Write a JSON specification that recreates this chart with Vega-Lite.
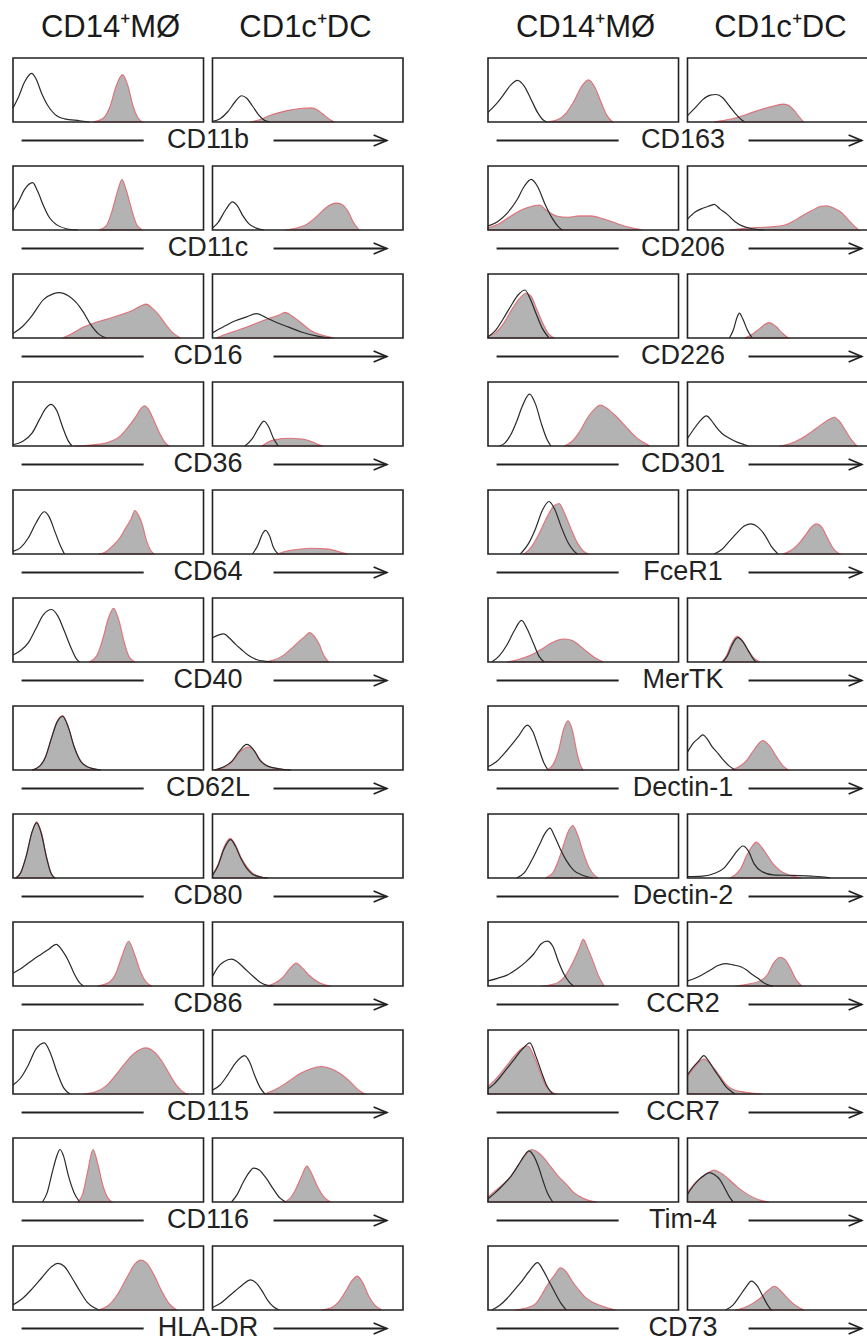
{
"$schema": "https://vega.github.io/schema/vega-lite/v6.json",
"background": "white",
"padding": {"left": 10, "top": 8, "right": 0, "bottom": 0},
"config": {"view": {"stroke": null}, "font": "Liberation Sans", "facet": {"spacing": 11}},
"spacing": 81,
"datasets": {
"H": [{"c":"M","t":"CD14⁺MØ"},{"c":"D","t":"CD1c⁺DC"}],
"L": [
{"m":"CD11b","c":"M","x":0,"i":0.22},{"m":"CD11b","c":"M","x":3,"i":0.4},{"m":"CD11b","c":"M","x":6,"i":0.62},{"m":"CD11b","c":"M","x":9.8,"i":0.76},{"m":"CD11b","c":"M","x":12,"i":0.68},{"m":"CD11b","c":"M","x":15,"i":0.45},{"m":"CD11b","c":"M","x":18,"i":0.27},{"m":"CD11b","c":"M","x":22,"i":0.12},{"m":"CD11b","c":"M","x":27,"i":0.05},{"m":"CD11b","c":"M","x":35,"i":0.02},{"m":"CD11b","c":"M","x":40,"i":0},
{"m":"CD11b","c":"M","x":42,"s":0},{"m":"CD11b","c":"M","x":47,"s":0.05},{"m":"CD11b","c":"M","x":51,"s":0.25},{"m":"CD11b","c":"M","x":54,"s":0.55},{"m":"CD11b","c":"M","x":57.5,"s":0.74},{"m":"CD11b","c":"M","x":60.5,"s":0.55},{"m":"CD11b","c":"M","x":63,"s":0.25},{"m":"CD11b","c":"M","x":65.5,"s":0.07},{"m":"CD11b","c":"M","x":68,"s":0},
{"m":"CD11b","c":"D","x":0,"i":0.01},{"m":"CD11b","c":"D","x":4,"i":0.05},{"m":"CD11b","c":"D","x":8,"i":0.16},{"m":"CD11b","c":"D","x":12,"i":0.32},{"m":"CD11b","c":"D","x":15.3,"i":0.41},{"m":"CD11b","c":"D","x":18,"i":0.37},{"m":"CD11b","c":"D","x":21,"i":0.25},{"m":"CD11b","c":"D","x":24,"i":0.12},{"m":"CD11b","c":"D","x":27,"i":0.03},{"m":"CD11b","c":"D","x":30,"i":0},
{"m":"CD11b","c":"D","x":20,"s":0},{"m":"CD11b","c":"D","x":25,"s":0.04},{"m":"CD11b","c":"D","x":30,"s":0.1},{"m":"CD11b","c":"D","x":38,"s":0.17},{"m":"CD11b","c":"D","x":46,"s":0.21},{"m":"CD11b","c":"D","x":52,"s":0.22},{"m":"CD11b","c":"D","x":56,"s":0.17},{"m":"CD11b","c":"D","x":59,"s":0.1},{"m":"CD11b","c":"D","x":62,"s":0.03},{"m":"CD11b","c":"D","x":64,"s":0},
{"m":"CD11c","c":"M","x":0,"i":0.3},{"m":"CD11c","c":"M","x":3,"i":0.45},{"m":"CD11c","c":"M","x":6,"i":0.63},{"m":"CD11c","c":"M","x":10.3,"i":0.74},{"m":"CD11c","c":"M","x":13,"i":0.6},{"m":"CD11c","c":"M","x":16,"i":0.38},{"m":"CD11c","c":"M","x":19,"i":0.2},{"m":"CD11c","c":"M","x":23,"i":0.08},{"m":"CD11c","c":"M","x":28,"i":0.02},{"m":"CD11c","c":"M","x":34,"i":0},
{"m":"CD11c","c":"M","x":45,"s":0},{"m":"CD11c","c":"M","x":49,"s":0.07},{"m":"CD11c","c":"M","x":52,"s":0.3},{"m":"CD11c","c":"M","x":55,"s":0.62},{"m":"CD11c","c":"M","x":57.2,"s":0.79},{"m":"CD11c","c":"M","x":59.5,"s":0.62},{"m":"CD11c","c":"M","x":62.5,"s":0.3},{"m":"CD11c","c":"M","x":65,"s":0.08},{"m":"CD11c","c":"M","x":68,"s":0},
{"m":"CD11c","c":"D","x":0,"i":0.03},{"m":"CD11c","c":"D","x":3,"i":0.12},{"m":"CD11c","c":"D","x":7,"i":0.32},{"m":"CD11c","c":"D","x":10.5,"i":0.44},{"m":"CD11c","c":"D","x":13,"i":0.38},{"m":"CD11c","c":"D","x":16,"i":0.22},{"m":"CD11c","c":"D","x":19,"i":0.1},{"m":"CD11c","c":"D","x":23,"i":0.03},{"m":"CD11c","c":"D","x":27,"i":0},
{"m":"CD11c","c":"D","x":38,"s":0},{"m":"CD11c","c":"D","x":44,"s":0.03},{"m":"CD11c","c":"D","x":50,"s":0.1},{"m":"CD11c","c":"D","x":55,"s":0.22},{"m":"CD11c","c":"D","x":60,"s":0.36},{"m":"CD11c","c":"D","x":65,"s":0.42},{"m":"CD11c","c":"D","x":68,"s":0.4},{"m":"CD11c","c":"D","x":71,"s":0.3},{"m":"CD11c","c":"D","x":74,"s":0.12},{"m":"CD11c","c":"D","x":77,"s":0},
{"m":"CD16","c":"M","x":0,"i":0.07},{"m":"CD16","c":"M","x":5,"i":0.18},{"m":"CD16","c":"M","x":10,"i":0.35},{"m":"CD16","c":"M","x":16,"i":0.6},{"m":"CD16","c":"M","x":21,"i":0.69},{"m":"CD16","c":"M","x":24.3,"i":0.71},{"m":"CD16","c":"M","x":29,"i":0.66},{"m":"CD16","c":"M","x":33,"i":0.56},{"m":"CD16","c":"M","x":37,"i":0.4},{"m":"CD16","c":"M","x":41,"i":0.2},{"m":"CD16","c":"M","x":45,"i":0.06},{"m":"CD16","c":"M","x":49,"i":0},
{"m":"CD16","c":"M","x":26,"s":0},{"m":"CD16","c":"M","x":31,"s":0.07},{"m":"CD16","c":"M","x":37,"s":0.17},{"m":"CD16","c":"M","x":44,"s":0.25},{"m":"CD16","c":"M","x":50,"s":0.3},{"m":"CD16","c":"M","x":56,"s":0.36},{"m":"CD16","c":"M","x":62,"s":0.42},{"m":"CD16","c":"M","x":67,"s":0.5},{"m":"CD16","c":"M","x":70,"s":0.53},{"m":"CD16","c":"M","x":73,"s":0.47},{"m":"CD16","c":"M","x":76,"s":0.38},{"m":"CD16","c":"M","x":80,"s":0.22},{"m":"CD16","c":"M","x":84,"s":0.08},{"m":"CD16","c":"M","x":88,"s":0},
{"m":"CD16","c":"D","x":0,"i":0.08},{"m":"CD16","c":"D","x":6,"i":0.18},{"m":"CD16","c":"D","x":12,"i":0.27},{"m":"CD16","c":"D","x":18,"i":0.33},{"m":"CD16","c":"D","x":23,"i":0.38},{"m":"CD16","c":"D","x":28,"i":0.32},{"m":"CD16","c":"D","x":33,"i":0.25},{"m":"CD16","c":"D","x":40,"i":0.17},{"m":"CD16","c":"D","x":47,"i":0.09},{"m":"CD16","c":"D","x":55,"i":0.03},{"m":"CD16","c":"D","x":62,"i":0},
{"m":"CD16","c":"D","x":2,"s":0},{"m":"CD16","c":"D","x":8,"s":0.07},{"m":"CD16","c":"D","x":15,"s":0.14},{"m":"CD16","c":"D","x":22,"s":0.22},{"m":"CD16","c":"D","x":29,"s":0.3},{"m":"CD16","c":"D","x":35,"s":0.36},{"m":"CD16","c":"D","x":38,"s":0.4},{"m":"CD16","c":"D","x":42,"s":0.34},{"m":"CD16","c":"D","x":46,"s":0.25},{"m":"CD16","c":"D","x":51,"s":0.13},{"m":"CD16","c":"D","x":57,"s":0.05},{"m":"CD16","c":"D","x":64,"s":0},
{"m":"CD36","c":"M","x":0,"i":0.02},{"m":"CD36","c":"M","x":5,"i":0.07},{"m":"CD36","c":"M","x":10,"i":0.2},{"m":"CD36","c":"M","x":14,"i":0.42},{"m":"CD36","c":"M","x":17,"i":0.58},{"m":"CD36","c":"M","x":20,"i":0.65},{"m":"CD36","c":"M","x":23,"i":0.55},{"m":"CD36","c":"M","x":26,"i":0.3},{"m":"CD36","c":"M","x":29,"i":0.08},{"m":"CD36","c":"M","x":31,"i":0},
{"m":"CD36","c":"M","x":32,"s":0},{"m":"CD36","c":"M","x":42,"s":0.02},{"m":"CD36","c":"M","x":50,"s":0.06},{"m":"CD36","c":"M","x":56,"s":0.15},{"m":"CD36","c":"M","x":60,"s":0.28},{"m":"CD36","c":"M","x":64,"s":0.44},{"m":"CD36","c":"M","x":67,"s":0.58},{"m":"CD36","c":"M","x":69,"s":0.63},{"m":"CD36","c":"M","x":71,"s":0.58},{"m":"CD36","c":"M","x":74,"s":0.4},{"m":"CD36","c":"M","x":77,"s":0.2},{"m":"CD36","c":"M","x":80,"s":0.05},{"m":"CD36","c":"M","x":82,"s":0},
{"m":"CD36","c":"D","x":17,"i":0},{"m":"CD36","c":"D","x":21,"i":0.12},{"m":"CD36","c":"D","x":24.5,"i":0.3},{"m":"CD36","c":"D","x":27,"i":0.39},{"m":"CD36","c":"D","x":29.5,"i":0.3},{"m":"CD36","c":"D","x":32,"i":0.12},{"m":"CD36","c":"D","x":34.5,"i":0},
{"m":"CD36","c":"D","x":26,"s":0},{"m":"CD36","c":"D","x":29,"s":0.06},{"m":"CD36","c":"D","x":33,"s":0.1},{"m":"CD36","c":"D","x":40,"s":0.12},{"m":"CD36","c":"D","x":47,"s":0.11},{"m":"CD36","c":"D","x":52,"s":0.07},{"m":"CD36","c":"D","x":56,"s":0.02},{"m":"CD36","c":"D","x":58,"s":0},
{"m":"CD64","c":"M","x":0,"i":0.04},{"m":"CD64","c":"M","x":4,"i":0.1},{"m":"CD64","c":"M","x":8,"i":0.25},{"m":"CD64","c":"M","x":12,"i":0.48},{"m":"CD64","c":"M","x":16.4,"i":0.66},{"m":"CD64","c":"M","x":19,"i":0.58},{"m":"CD64","c":"M","x":22,"i":0.35},{"m":"CD64","c":"M","x":25,"i":0.12},{"m":"CD64","c":"M","x":27,"i":0},
{"m":"CD64","c":"M","x":45,"s":0},{"m":"CD64","c":"M","x":49,"s":0.04},{"m":"CD64","c":"M","x":52,"s":0.12},{"m":"CD64","c":"M","x":56,"s":0.25},{"m":"CD64","c":"M","x":59,"s":0.4},{"m":"CD64","c":"M","x":62,"s":0.55},{"m":"CD64","c":"M","x":64,"s":0.68},{"m":"CD64","c":"M","x":66,"s":0.6},{"m":"CD64","c":"M","x":68,"s":0.45},{"m":"CD64","c":"M","x":70,"s":0.22},{"m":"CD64","c":"M","x":72,"s":0.07},{"m":"CD64","c":"M","x":74,"s":0},
{"m":"CD64","c":"D","x":21,"i":0},{"m":"CD64","c":"D","x":24,"i":0.15},{"m":"CD64","c":"D","x":26,"i":0.3},{"m":"CD64","c":"D","x":27.8,"i":0.37},{"m":"CD64","c":"D","x":30,"i":0.28},{"m":"CD64","c":"D","x":32,"i":0.1},{"m":"CD64","c":"D","x":34.5,"i":0},
{"m":"CD64","c":"D","x":34,"s":0},{"m":"CD64","c":"D","x":38,"s":0.04},{"m":"CD64","c":"D","x":44,"s":0.07},{"m":"CD64","c":"D","x":52,"s":0.09},{"m":"CD64","c":"D","x":60,"s":0.08},{"m":"CD64","c":"D","x":66,"s":0.04},{"m":"CD64","c":"D","x":71,"s":0},
{"m":"CD40","c":"M","x":0,"i":0.11},{"m":"CD40","c":"M","x":4,"i":0.18},{"m":"CD40","c":"M","x":8,"i":0.3},{"m":"CD40","c":"M","x":12,"i":0.52},{"m":"CD40","c":"M","x":16,"i":0.74},{"m":"CD40","c":"M","x":20.3,"i":0.82},{"m":"CD40","c":"M","x":23.5,"i":0.72},{"m":"CD40","c":"M","x":27,"i":0.48},{"m":"CD40","c":"M","x":30.5,"i":0.22},{"m":"CD40","c":"M","x":33.5,"i":0.04},{"m":"CD40","c":"M","x":35,"i":0},
{"m":"CD40","c":"M","x":40,"s":0},{"m":"CD40","c":"M","x":44,"s":0.1},{"m":"CD40","c":"M","x":47,"s":0.35},{"m":"CD40","c":"M","x":50,"s":0.68},{"m":"CD40","c":"M","x":52.8,"s":0.84},{"m":"CD40","c":"M","x":55.5,"s":0.66},{"m":"CD40","c":"M","x":58.5,"s":0.3},{"m":"CD40","c":"M","x":61,"s":0.08},{"m":"CD40","c":"M","x":64,"s":0},
{"m":"CD40","c":"D","x":0,"i":0.38},{"m":"CD40","c":"D","x":3,"i":0.42},{"m":"CD40","c":"D","x":6,"i":0.44},{"m":"CD40","c":"D","x":9,"i":0.37},{"m":"CD40","c":"D","x":12,"i":0.28},{"m":"CD40","c":"D","x":15,"i":0.2},{"m":"CD40","c":"D","x":19,"i":0.1},{"m":"CD40","c":"D","x":23,"i":0.04},{"m":"CD40","c":"D","x":28,"i":0.01},{"m":"CD40","c":"D","x":31,"i":0},
{"m":"CD40","c":"D","x":27,"s":0},{"m":"CD40","c":"D","x":32,"s":0.03},{"m":"CD40","c":"D","x":37,"s":0.1},{"m":"CD40","c":"D","x":41,"s":0.2},{"m":"CD40","c":"D","x":45,"s":0.31},{"m":"CD40","c":"D","x":48.5,"s":0.4},{"m":"CD40","c":"D","x":51,"s":0.46},{"m":"CD40","c":"D","x":53.5,"s":0.4},{"m":"CD40","c":"D","x":56,"s":0.28},{"m":"CD40","c":"D","x":58.5,"s":0.1},{"m":"CD40","c":"D","x":61,"s":0},
{"m":"CD62L","c":"M","x":10,"i":0},{"m":"CD62L","c":"M","x":14,"i":0.06},{"m":"CD62L","c":"M","x":17,"i":0.2},{"m":"CD62L","c":"M","x":20,"i":0.48},{"m":"CD62L","c":"M","x":23,"i":0.74},{"m":"CD62L","c":"M","x":26,"i":0.84},{"m":"CD62L","c":"M","x":29,"i":0.67},{"m":"CD62L","c":"M","x":32,"i":0.37},{"m":"CD62L","c":"M","x":35,"i":0.16},{"m":"CD62L","c":"M","x":39,"i":0.05},{"m":"CD62L","c":"M","x":46,"i":0},
{"m":"CD62L","c":"M","x":10,"s":0},{"m":"CD62L","c":"M","x":14,"s":0.06},{"m":"CD62L","c":"M","x":17,"s":0.2},{"m":"CD62L","c":"M","x":20,"s":0.48},{"m":"CD62L","c":"M","x":23,"s":0.75},{"m":"CD62L","c":"M","x":26,"s":0.85},{"m":"CD62L","c":"M","x":29,"s":0.68},{"m":"CD62L","c":"M","x":32,"s":0.38},{"m":"CD62L","c":"M","x":35,"s":0.17},{"m":"CD62L","c":"M","x":39,"s":0.05},{"m":"CD62L","c":"M","x":46,"s":0},
{"m":"CD62L","c":"D","x":1,"i":0},{"m":"CD62L","c":"D","x":6,"i":0.05},{"m":"CD62L","c":"D","x":10,"i":0.13},{"m":"CD62L","c":"D","x":14,"i":0.29},{"m":"CD62L","c":"D","x":18,"i":0.4},{"m":"CD62L","c":"D","x":21.5,"i":0.32},{"m":"CD62L","c":"D","x":25,"i":0.15},{"m":"CD62L","c":"D","x":29,"i":0.06},{"m":"CD62L","c":"D","x":35,"i":0.02},{"m":"CD62L","c":"D","x":41,"i":0},
{"m":"CD62L","c":"D","x":1,"s":0},{"m":"CD62L","c":"D","x":6,"s":0.04},{"m":"CD62L","c":"D","x":10,"s":0.12},{"m":"CD62L","c":"D","x":14,"s":0.27},{"m":"CD62L","c":"D","x":18.5,"s":0.36},{"m":"CD62L","c":"D","x":22,"s":0.3},{"m":"CD62L","c":"D","x":25,"s":0.16},{"m":"CD62L","c":"D","x":29,"s":0.06},{"m":"CD62L","c":"D","x":35,"s":0.02},{"m":"CD62L","c":"D","x":41,"s":0},
{"m":"CD80","c":"M","x":1.5,"i":0},{"m":"CD80","c":"M","x":4,"i":0.08},{"m":"CD80","c":"M","x":7,"i":0.35},{"m":"CD80","c":"M","x":10,"i":0.72},{"m":"CD80","c":"M","x":12.4,"i":0.86},{"m":"CD80","c":"M","x":15,"i":0.68},{"m":"CD80","c":"M","x":17.5,"i":0.33},{"m":"CD80","c":"M","x":20,"i":0.07},{"m":"CD80","c":"M","x":22,"i":0},
{"m":"CD80","c":"M","x":1.5,"s":0},{"m":"CD80","c":"M","x":4,"s":0.08},{"m":"CD80","c":"M","x":7,"s":0.35},{"m":"CD80","c":"M","x":10,"s":0.72},{"m":"CD80","c":"M","x":12.4,"s":0.88},{"m":"CD80","c":"M","x":15,"s":0.7},{"m":"CD80","c":"M","x":17.5,"s":0.35},{"m":"CD80","c":"M","x":20,"s":0.08},{"m":"CD80","c":"M","x":22,"s":0},
{"m":"CD80","c":"D","x":0,"i":0.04},{"m":"CD80","c":"D","x":3,"i":0.2},{"m":"CD80","c":"D","x":6,"i":0.45},{"m":"CD80","c":"D","x":9.5,"i":0.6},{"m":"CD80","c":"D","x":12,"i":0.5},{"m":"CD80","c":"D","x":15,"i":0.3},{"m":"CD80","c":"D","x":18,"i":0.15},{"m":"CD80","c":"D","x":21,"i":0.06},{"m":"CD80","c":"D","x":25,"i":0.02},{"m":"CD80","c":"D","x":29,"i":0},
{"m":"CD80","c":"D","x":0,"s":0.05},{"m":"CD80","c":"D","x":3,"s":0.22},{"m":"CD80","c":"D","x":6,"s":0.48},{"m":"CD80","c":"D","x":9.3,"s":0.62},{"m":"CD80","c":"D","x":12,"s":0.52},{"m":"CD80","c":"D","x":15,"s":0.32},{"m":"CD80","c":"D","x":18,"s":0.18},{"m":"CD80","c":"D","x":21,"s":0.08},{"m":"CD80","c":"D","x":25,"s":0.02},{"m":"CD80","c":"D","x":29,"s":0},
{"m":"CD86","c":"M","x":0,"i":0.2},{"m":"CD86","c":"M","x":5,"i":0.29},{"m":"CD86","c":"M","x":10,"i":0.4},{"m":"CD86","c":"M","x":15,"i":0.5},{"m":"CD86","c":"M","x":19,"i":0.58},{"m":"CD86","c":"M","x":22.6,"i":0.65},{"m":"CD86","c":"M","x":26,"i":0.55},{"m":"CD86","c":"M","x":29,"i":0.4},{"m":"CD86","c":"M","x":32,"i":0.2},{"m":"CD86","c":"M","x":35,"i":0.05},{"m":"CD86","c":"M","x":37,"i":0},
{"m":"CD86","c":"M","x":44,"s":0},{"m":"CD86","c":"M","x":50,"s":0.05},{"m":"CD86","c":"M","x":54,"s":0.2},{"m":"CD86","c":"M","x":57,"s":0.45},{"m":"CD86","c":"M","x":60.7,"s":0.7},{"m":"CD86","c":"M","x":64,"s":0.48},{"m":"CD86","c":"M","x":67,"s":0.22},{"m":"CD86","c":"M","x":70,"s":0.06},{"m":"CD86","c":"M","x":73,"s":0},
{"m":"CD86","c":"D","x":0,"i":0.15},{"m":"CD86","c":"D","x":3,"i":0.3},{"m":"CD86","c":"D","x":6,"i":0.38},{"m":"CD86","c":"D","x":10,"i":0.42},{"m":"CD86","c":"D","x":13,"i":0.38},{"m":"CD86","c":"D","x":17,"i":0.27},{"m":"CD86","c":"D","x":21,"i":0.16},{"m":"CD86","c":"D","x":25,"i":0.06},{"m":"CD86","c":"D","x":29,"i":0.01},{"m":"CD86","c":"D","x":32,"i":0},
{"m":"CD86","c":"D","x":29,"s":0},{"m":"CD86","c":"D","x":33,"s":0.05},{"m":"CD86","c":"D","x":37,"s":0.14},{"m":"CD86","c":"D","x":40.5,"s":0.27},{"m":"CD86","c":"D","x":44,"s":0.36},{"m":"CD86","c":"D","x":47.5,"s":0.27},{"m":"CD86","c":"D","x":51,"s":0.16},{"m":"CD86","c":"D","x":55,"s":0.07},{"m":"CD86","c":"D","x":59,"s":0.02},{"m":"CD86","c":"D","x":62,"s":0},
{"m":"CD115","c":"M","x":0,"i":0.14},{"m":"CD115","c":"M","x":4,"i":0.25},{"m":"CD115","c":"M","x":8,"i":0.45},{"m":"CD115","c":"M","x":12,"i":0.7},{"m":"CD115","c":"M","x":16.4,"i":0.8},{"m":"CD115","c":"M","x":19.5,"i":0.65},{"m":"CD115","c":"M","x":23,"i":0.35},{"m":"CD115","c":"M","x":26.5,"i":0.1},{"m":"CD115","c":"M","x":30,"i":0},
{"m":"CD115","c":"M","x":37,"s":0},{"m":"CD115","c":"M","x":43,"s":0.03},{"m":"CD115","c":"M","x":49,"s":0.13},{"m":"CD115","c":"M","x":54,"s":0.3},{"m":"CD115","c":"M","x":58.5,"s":0.47},{"m":"CD115","c":"M","x":63,"s":0.62},{"m":"CD115","c":"M","x":67,"s":0.7},{"m":"CD115","c":"M","x":70,"s":0.72},{"m":"CD115","c":"M","x":74,"s":0.66},{"m":"CD115","c":"M","x":78,"s":0.52},{"m":"CD115","c":"M","x":82,"s":0.32},{"m":"CD115","c":"M","x":86,"s":0.13},{"m":"CD115","c":"M","x":90,"s":0.02},{"m":"CD115","c":"M","x":92,"s":0},
{"m":"CD115","c":"D","x":0,"i":0.06},{"m":"CD115","c":"D","x":4,"i":0.14},{"m":"CD115","c":"D","x":8,"i":0.3},{"m":"CD115","c":"D","x":12,"i":0.48},{"m":"CD115","c":"D","x":16.8,"i":0.6},{"m":"CD115","c":"D","x":19.5,"i":0.5},{"m":"CD115","c":"D","x":22,"i":0.3},{"m":"CD115","c":"D","x":25,"i":0.1},{"m":"CD115","c":"D","x":27.5,"i":0},
{"m":"CD115","c":"D","x":27,"s":0},{"m":"CD115","c":"D","x":33,"s":0.07},{"m":"CD115","c":"D","x":40,"s":0.2},{"m":"CD115","c":"D","x":46,"s":0.32},{"m":"CD115","c":"D","x":52,"s":0.4},{"m":"CD115","c":"D","x":57,"s":0.43},{"m":"CD115","c":"D","x":62,"s":0.4},{"m":"CD115","c":"D","x":67,"s":0.32},{"m":"CD115","c":"D","x":72,"s":0.2},{"m":"CD115","c":"D","x":76,"s":0.08},{"m":"CD115","c":"D","x":80,"s":0},
{"m":"CD116","c":"M","x":15.5,"i":0},{"m":"CD116","c":"M","x":18,"i":0.15},{"m":"CD116","c":"M","x":20.5,"i":0.45},{"m":"CD116","c":"M","x":23,"i":0.72},{"m":"CD116","c":"M","x":24.7,"i":0.82},{"m":"CD116","c":"M","x":26.5,"i":0.72},{"m":"CD116","c":"M","x":29,"i":0.42},{"m":"CD116","c":"M","x":32,"i":0.15},{"m":"CD116","c":"M","x":35,"i":0},
{"m":"CD116","c":"M","x":34,"s":0},{"m":"CD116","c":"M","x":36.5,"s":0.12},{"m":"CD116","c":"M","x":39,"s":0.45},{"m":"CD116","c":"M","x":42,"s":0.82},{"m":"CD116","c":"M","x":44.5,"s":0.6},{"m":"CD116","c":"M","x":47,"s":0.28},{"m":"CD116","c":"M","x":49.5,"s":0.08},{"m":"CD116","c":"M","x":52,"s":0},
{"m":"CD116","c":"D","x":10,"i":0},{"m":"CD116","c":"D","x":13,"i":0.12},{"m":"CD116","c":"D","x":16,"i":0.3},{"m":"CD116","c":"D","x":19,"i":0.45},{"m":"CD116","c":"D","x":21.5,"i":0.53},{"m":"CD116","c":"D","x":24.5,"i":0.5},{"m":"CD116","c":"D","x":28,"i":0.38},{"m":"CD116","c":"D","x":32,"i":0.2},{"m":"CD116","c":"D","x":35.5,"i":0.06},{"m":"CD116","c":"D","x":38.5,"i":0},
{"m":"CD116","c":"D","x":38,"s":0},{"m":"CD116","c":"D","x":41,"s":0.07},{"m":"CD116","c":"D","x":44,"s":0.22},{"m":"CD116","c":"D","x":47,"s":0.42},{"m":"CD116","c":"D","x":49.5,"s":0.56},{"m":"CD116","c":"D","x":52,"s":0.45},{"m":"CD116","c":"D","x":55,"s":0.25},{"m":"CD116","c":"D","x":58.5,"s":0.08},{"m":"CD116","c":"D","x":62,"s":0},
{"m":"HLA-DR","c":"M","x":0,"i":0.08},{"m":"HLA-DR","c":"M","x":5,"i":0.18},{"m":"HLA-DR","c":"M","x":10,"i":0.33},{"m":"HLA-DR","c":"M","x":15,"i":0.5},{"m":"HLA-DR","c":"M","x":20,"i":0.67},{"m":"HLA-DR","c":"M","x":23.5,"i":0.73},{"m":"HLA-DR","c":"M","x":27,"i":0.68},{"m":"HLA-DR","c":"M","x":31,"i":0.5},{"m":"HLA-DR","c":"M","x":35,"i":0.3},{"m":"HLA-DR","c":"M","x":39,"i":0.12},{"m":"HLA-DR","c":"M","x":43,"i":0.03},{"m":"HLA-DR","c":"M","x":45,"i":0},
{"m":"HLA-DR","c":"M","x":45,"s":0},{"m":"HLA-DR","c":"M","x":50,"s":0.07},{"m":"HLA-DR","c":"M","x":55,"s":0.25},{"m":"HLA-DR","c":"M","x":60,"s":0.52},{"m":"HLA-DR","c":"M","x":64,"s":0.72},{"m":"HLA-DR","c":"M","x":67,"s":0.78},{"m":"HLA-DR","c":"M","x":70,"s":0.74},{"m":"HLA-DR","c":"M","x":74,"s":0.55},{"m":"HLA-DR","c":"M","x":78,"s":0.3},{"m":"HLA-DR","c":"M","x":82,"s":0.1},{"m":"HLA-DR","c":"M","x":86,"s":0},
{"m":"HLA-DR","c":"D","x":0,"i":0.04},{"m":"HLA-DR","c":"D","x":4,"i":0.1},{"m":"HLA-DR","c":"D","x":8,"i":0.2},{"m":"HLA-DR","c":"D","x":12,"i":0.3},{"m":"HLA-DR","c":"D","x":16,"i":0.4},{"m":"HLA-DR","c":"D","x":20,"i":0.47},{"m":"HLA-DR","c":"D","x":23,"i":0.42},{"m":"HLA-DR","c":"D","x":26,"i":0.3},{"m":"HLA-DR","c":"D","x":29,"i":0.15},{"m":"HLA-DR","c":"D","x":32,"i":0.05},{"m":"HLA-DR","c":"D","x":35,"i":0},
{"m":"HLA-DR","c":"D","x":57,"s":0},{"m":"HLA-DR","c":"D","x":62,"s":0.03},{"m":"HLA-DR","c":"D","x":66,"s":0.12},{"m":"HLA-DR","c":"D","x":70,"s":0.3},{"m":"HLA-DR","c":"D","x":73,"s":0.45},{"m":"HLA-DR","c":"D","x":76,"s":0.53},{"m":"HLA-DR","c":"D","x":79,"s":0.42},{"m":"HLA-DR","c":"D","x":82,"s":0.22},{"m":"HLA-DR","c":"D","x":85.5,"s":0.07},{"m":"HLA-DR","c":"D","x":89,"s":0}
],
"R": [
{"m":"CD163","c":"M","x":0,"i":0.15},{"m":"CD163","c":"M","x":4,"i":0.27},{"m":"CD163","c":"M","x":8,"i":0.42},{"m":"CD163","c":"M","x":12,"i":0.58},{"m":"CD163","c":"M","x":15.5,"i":0.65},{"m":"CD163","c":"M","x":19,"i":0.56},{"m":"CD163","c":"M","x":22.5,"i":0.36},{"m":"CD163","c":"M","x":26,"i":0.15},{"m":"CD163","c":"M","x":29,"i":0.03},{"m":"CD163","c":"M","x":31,"i":0},
{"m":"CD163","c":"M","x":31,"s":0},{"m":"CD163","c":"M","x":36,"s":0.03},{"m":"CD163","c":"M","x":41,"s":0.14},{"m":"CD163","c":"M","x":45,"s":0.32},{"m":"CD163","c":"M","x":49,"s":0.55},{"m":"CD163","c":"M","x":52.7,"s":0.66},{"m":"CD163","c":"M","x":56,"s":0.55},{"m":"CD163","c":"M","x":59.5,"s":0.3},{"m":"CD163","c":"M","x":62.5,"s":0.1},{"m":"CD163","c":"M","x":65.5,"s":0},
{"m":"CD163","c":"D","x":0,"i":0.1},{"m":"CD163","c":"D","x":4,"i":0.22},{"m":"CD163","c":"D","x":8,"i":0.35},{"m":"CD163","c":"D","x":12,"i":0.42},{"m":"CD163","c":"D","x":15,"i":0.43},{"m":"CD163","c":"D","x":18.5,"i":0.38},{"m":"CD163","c":"D","x":22,"i":0.25},{"m":"CD163","c":"D","x":25.5,"i":0.12},{"m":"CD163","c":"D","x":28.5,"i":0.03},{"m":"CD163","c":"D","x":30,"i":0},
{"m":"CD163","c":"D","x":14,"s":0},{"m":"CD163","c":"D","x":20,"s":0.03},{"m":"CD163","c":"D","x":26,"s":0.07},{"m":"CD163","c":"D","x":32,"s":0.13},{"m":"CD163","c":"D","x":38,"s":0.19},{"m":"CD163","c":"D","x":44,"s":0.24},{"m":"CD163","c":"D","x":50,"s":0.28},{"m":"CD163","c":"D","x":53,"s":0.26},{"m":"CD163","c":"D","x":56,"s":0.18},{"m":"CD163","c":"D","x":59,"s":0.07},{"m":"CD163","c":"D","x":61,"s":0},
{"m":"CD206","c":"M","x":0,"i":0.06},{"m":"CD206","c":"M","x":5,"i":0.13},{"m":"CD206","c":"M","x":10,"i":0.26},{"m":"CD206","c":"M","x":15,"i":0.46},{"m":"CD206","c":"M","x":19,"i":0.68},{"m":"CD206","c":"M","x":22.7,"i":0.79},{"m":"CD206","c":"M","x":26,"i":0.68},{"m":"CD206","c":"M","x":30,"i":0.4},{"m":"CD206","c":"M","x":34,"i":0.17},{"m":"CD206","c":"M","x":37,"i":0.05},{"m":"CD206","c":"M","x":39,"i":0},
{"m":"CD206","c":"M","x":0,"s":0.03},{"m":"CD206","c":"M","x":6,"s":0.1},{"m":"CD206","c":"M","x":12,"s":0.22},{"m":"CD206","c":"M","x":18,"s":0.32},{"m":"CD206","c":"M","x":24,"s":0.38},{"m":"CD206","c":"M","x":27,"s":0.39},{"m":"CD206","c":"M","x":31,"s":0.3},{"m":"CD206","c":"M","x":36,"s":0.22},{"m":"CD206","c":"M","x":42,"s":0.2},{"m":"CD206","c":"M","x":48,"s":0.22},{"m":"CD206","c":"M","x":54,"s":0.22},{"m":"CD206","c":"M","x":60,"s":0.18},{"m":"CD206","c":"M","x":66,"s":0.12},{"m":"CD206","c":"M","x":72,"s":0.06},{"m":"CD206","c":"M","x":78,"s":0.02},{"m":"CD206","c":"M","x":81,"s":0},
{"m":"CD206","c":"D","x":0,"i":0.17},{"m":"CD206","c":"D","x":4,"i":0.28},{"m":"CD206","c":"D","x":8,"i":0.34},{"m":"CD206","c":"D","x":12,"i":0.38},{"m":"CD206","c":"D","x":14,"i":0.4},{"m":"CD206","c":"D","x":17,"i":0.33},{"m":"CD206","c":"D","x":21,"i":0.24},{"m":"CD206","c":"D","x":25,"i":0.13},{"m":"CD206","c":"D","x":29,"i":0.06},{"m":"CD206","c":"D","x":34,"i":0.02},{"m":"CD206","c":"D","x":40,"i":0},
{"m":"CD206","c":"D","x":22,"s":0},{"m":"CD206","c":"D","x":28,"s":0.02},{"m":"CD206","c":"D","x":36,"s":0.04},{"m":"CD206","c":"D","x":44,"s":0.05},{"m":"CD206","c":"D","x":50,"s":0.07},{"m":"CD206","c":"D","x":55,"s":0.13},{"m":"CD206","c":"D","x":60,"s":0.22},{"m":"CD206","c":"D","x":65,"s":0.3},{"m":"CD206","c":"D","x":70,"s":0.37},{"m":"CD206","c":"D","x":73,"s":0.38},{"m":"CD206","c":"D","x":77,"s":0.34},{"m":"CD206","c":"D","x":81,"s":0.27},{"m":"CD206","c":"D","x":85,"s":0.14},{"m":"CD206","c":"D","x":88,"s":0.05},{"m":"CD206","c":"D","x":90,"s":0},
{"m":"CD226","c":"M","x":0,"i":0.02},{"m":"CD226","c":"M","x":4,"i":0.12},{"m":"CD226","c":"M","x":8,"i":0.3},{"m":"CD226","c":"M","x":12,"i":0.5},{"m":"CD226","c":"M","x":16,"i":0.68},{"m":"CD226","c":"M","x":19.4,"i":0.75},{"m":"CD226","c":"M","x":22,"i":0.62},{"m":"CD226","c":"M","x":25,"i":0.4},{"m":"CD226","c":"M","x":28.5,"i":0.15},{"m":"CD226","c":"M","x":32,"i":0},
{"m":"CD226","c":"M","x":0,"s":0.02},{"m":"CD226","c":"M","x":4,"s":0.08},{"m":"CD226","c":"M","x":8,"s":0.22},{"m":"CD226","c":"M","x":12,"s":0.42},{"m":"CD226","c":"M","x":16,"s":0.6},{"m":"CD226","c":"M","x":20,"s":0.7},{"m":"CD226","c":"M","x":22.5,"s":0.66},{"m":"CD226","c":"M","x":25.5,"s":0.46},{"m":"CD226","c":"M","x":29,"s":0.22},{"m":"CD226","c":"M","x":32,"s":0.06},{"m":"CD226","c":"M","x":35,"s":0},
{"m":"CD226","c":"D","x":22,"i":0},{"m":"CD226","c":"D","x":24,"i":0.12},{"m":"CD226","c":"D","x":26,"i":0.32},{"m":"CD226","c":"D","x":27.2,"i":0.39},{"m":"CD226","c":"D","x":29,"i":0.3},{"m":"CD226","c":"D","x":31.5,"i":0.12},{"m":"CD226","c":"D","x":34,"i":0},
{"m":"CD226","c":"D","x":30,"s":0},{"m":"CD226","c":"D","x":34,"s":0.06},{"m":"CD226","c":"D","x":38,"s":0.15},{"m":"CD226","c":"D","x":42.8,"s":0.24},{"m":"CD226","c":"D","x":46.5,"s":0.18},{"m":"CD226","c":"D","x":50,"s":0.07},{"m":"CD226","c":"D","x":53,"s":0},
{"m":"CD301","c":"M","x":6,"i":0},{"m":"CD301","c":"M","x":9,"i":0.05},{"m":"CD301","c":"M","x":12,"i":0.18},{"m":"CD301","c":"M","x":15,"i":0.38},{"m":"CD301","c":"M","x":18,"i":0.62},{"m":"CD301","c":"M","x":21.8,"i":0.81},{"m":"CD301","c":"M","x":25,"i":0.65},{"m":"CD301","c":"M","x":28,"i":0.35},{"m":"CD301","c":"M","x":31,"i":0.1},{"m":"CD301","c":"M","x":33,"i":0},
{"m":"CD301","c":"M","x":40,"s":0},{"m":"CD301","c":"M","x":44,"s":0.07},{"m":"CD301","c":"M","x":48,"s":0.22},{"m":"CD301","c":"M","x":52,"s":0.43},{"m":"CD301","c":"M","x":56,"s":0.58},{"m":"CD301","c":"M","x":59,"s":0.64},{"m":"CD301","c":"M","x":62,"s":0.6},{"m":"CD301","c":"M","x":66,"s":0.5},{"m":"CD301","c":"M","x":70,"s":0.38},{"m":"CD301","c":"M","x":74,"s":0.25},{"m":"CD301","c":"M","x":78,"s":0.13},{"m":"CD301","c":"M","x":82,"s":0.05},{"m":"CD301","c":"M","x":85,"s":0},
{"m":"CD301","c":"D","x":0,"i":0.12},{"m":"CD301","c":"D","x":3,"i":0.25},{"m":"CD301","c":"D","x":6,"i":0.37},{"m":"CD301","c":"D","x":10,"i":0.47},{"m":"CD301","c":"D","x":12.5,"i":0.4},{"m":"CD301","c":"D","x":15,"i":0.3},{"m":"CD301","c":"D","x":18,"i":0.2},{"m":"CD301","c":"D","x":22,"i":0.12},{"m":"CD301","c":"D","x":26,"i":0.06},{"m":"CD301","c":"D","x":30,"i":0.02},{"m":"CD301","c":"D","x":32,"i":0},
{"m":"CD301","c":"D","x":48,"s":0},{"m":"CD301","c":"D","x":54,"s":0.04},{"m":"CD301","c":"D","x":60,"s":0.12},{"m":"CD301","c":"D","x":65,"s":0.22},{"m":"CD301","c":"D","x":70,"s":0.33},{"m":"CD301","c":"D","x":74,"s":0.41},{"m":"CD301","c":"D","x":77,"s":0.45},{"m":"CD301","c":"D","x":80,"s":0.38},{"m":"CD301","c":"D","x":83,"s":0.24},{"m":"CD301","c":"D","x":86,"s":0.1},{"m":"CD301","c":"D","x":89,"s":0},
{"m":"FceR1","c":"M","x":17,"i":0},{"m":"FceR1","c":"M","x":21,"i":0.15},{"m":"FceR1","c":"M","x":25,"i":0.4},{"m":"FceR1","c":"M","x":28.5,"i":0.68},{"m":"FceR1","c":"M","x":32,"i":0.82},{"m":"FceR1","c":"M","x":35,"i":0.7},{"m":"FceR1","c":"M","x":38.5,"i":0.42},{"m":"FceR1","c":"M","x":42,"i":0.18},{"m":"FceR1","c":"M","x":45,"i":0.05},{"m":"FceR1","c":"M","x":47,"i":0},
{"m":"FceR1","c":"M","x":19,"s":0},{"m":"FceR1","c":"M","x":23,"s":0.12},{"m":"FceR1","c":"M","x":27,"s":0.33},{"m":"FceR1","c":"M","x":31,"s":0.58},{"m":"FceR1","c":"M","x":34.5,"s":0.75},{"m":"FceR1","c":"M","x":37.4,"s":0.79},{"m":"FceR1","c":"M","x":40,"s":0.65},{"m":"FceR1","c":"M","x":43.5,"s":0.4},{"m":"FceR1","c":"M","x":47,"s":0.17},{"m":"FceR1","c":"M","x":50,"s":0.05},{"m":"FceR1","c":"M","x":53,"s":0},
{"m":"FceR1","c":"D","x":14,"i":0},{"m":"FceR1","c":"D","x":18,"i":0.07},{"m":"FceR1","c":"D","x":22,"i":0.2},{"m":"FceR1","c":"D","x":26,"i":0.33},{"m":"FceR1","c":"D","x":30,"i":0.44},{"m":"FceR1","c":"D","x":33.3,"i":0.47},{"m":"FceR1","c":"D","x":37,"i":0.42},{"m":"FceR1","c":"D","x":40.5,"i":0.3},{"m":"FceR1","c":"D","x":44,"i":0.12},{"m":"FceR1","c":"D","x":47.5,"i":0},
{"m":"FceR1","c":"D","x":50,"s":0},{"m":"FceR1","c":"D","x":54,"s":0.05},{"m":"FceR1","c":"D","x":58,"s":0.15},{"m":"FceR1","c":"D","x":62,"s":0.3},{"m":"FceR1","c":"D","x":65,"s":0.42},{"m":"FceR1","c":"D","x":67.7,"s":0.47},{"m":"FceR1","c":"D","x":70.5,"s":0.42},{"m":"FceR1","c":"D","x":73.5,"s":0.25},{"m":"FceR1","c":"D","x":77,"s":0.07},{"m":"FceR1","c":"D","x":80,"s":0},
{"m":"MerTK","c":"M","x":2,"i":0},{"m":"MerTK","c":"M","x":6,"i":0.1},{"m":"MerTK","c":"M","x":10,"i":0.27},{"m":"MerTK","c":"M","x":14,"i":0.5},{"m":"MerTK","c":"M","x":17.6,"i":0.65},{"m":"MerTK","c":"M","x":20.5,"i":0.52},{"m":"MerTK","c":"M","x":24,"i":0.28},{"m":"MerTK","c":"M","x":27,"i":0.08},{"m":"MerTK","c":"M","x":29.5,"i":0},
{"m":"MerTK","c":"M","x":10,"s":0},{"m":"MerTK","c":"M","x":16,"s":0.04},{"m":"MerTK","c":"M","x":22,"s":0.1},{"m":"MerTK","c":"M","x":28,"s":0.2},{"m":"MerTK","c":"M","x":34,"s":0.31},{"m":"MerTK","c":"M","x":39.6,"s":0.36},{"m":"MerTK","c":"M","x":44,"s":0.34},{"m":"MerTK","c":"M","x":48,"s":0.26},{"m":"MerTK","c":"M","x":52,"s":0.16},{"m":"MerTK","c":"M","x":56,"s":0.07},{"m":"MerTK","c":"M","x":60.5,"s":0},
{"m":"MerTK","c":"D","x":18.5,"i":0},{"m":"MerTK","c":"D","x":21,"i":0.1},{"m":"MerTK","c":"D","x":23.5,"i":0.27},{"m":"MerTK","c":"D","x":26.4,"i":0.38},{"m":"MerTK","c":"D","x":29,"i":0.32},{"m":"MerTK","c":"D","x":32,"i":0.17},{"m":"MerTK","c":"D","x":34.5,"i":0.05},{"m":"MerTK","c":"D","x":36,"i":0},
{"m":"MerTK","c":"D","x":18,"s":0},{"m":"MerTK","c":"D","x":20.5,"s":0.1},{"m":"MerTK","c":"D","x":23,"s":0.28},{"m":"MerTK","c":"D","x":26,"s":0.4},{"m":"MerTK","c":"D","x":29,"s":0.33},{"m":"MerTK","c":"D","x":32,"s":0.18},{"m":"MerTK","c":"D","x":35,"s":0.06},{"m":"MerTK","c":"D","x":38,"s":0},
{"m":"Dectin-1","c":"M","x":0,"i":0.05},{"m":"Dectin-1","c":"M","x":4,"i":0.12},{"m":"Dectin-1","c":"M","x":8,"i":0.24},{"m":"Dectin-1","c":"M","x":12,"i":0.38},{"m":"Dectin-1","c":"M","x":16,"i":0.53},{"m":"Dectin-1","c":"M","x":20.7,"i":0.7},{"m":"Dectin-1","c":"M","x":23.5,"i":0.6},{"m":"Dectin-1","c":"M","x":26.5,"i":0.35},{"m":"Dectin-1","c":"M","x":29.5,"i":0.1},{"m":"Dectin-1","c":"M","x":31.5,"i":0},
{"m":"Dectin-1","c":"M","x":31,"s":0},{"m":"Dectin-1","c":"M","x":34,"s":0.08},{"m":"Dectin-1","c":"M","x":37,"s":0.3},{"m":"Dectin-1","c":"M","x":39.5,"s":0.62},{"m":"Dectin-1","c":"M","x":42,"s":0.77},{"m":"Dectin-1","c":"M","x":44.5,"s":0.6},{"m":"Dectin-1","c":"M","x":46.5,"s":0.3},{"m":"Dectin-1","c":"M","x":48.5,"s":0.08},{"m":"Dectin-1","c":"M","x":50,"s":0},
{"m":"Dectin-1","c":"D","x":0,"i":0.28},{"m":"Dectin-1","c":"D","x":3,"i":0.42},{"m":"Dectin-1","c":"D","x":6,"i":0.5},{"m":"Dectin-1","c":"D","x":8,"i":0.55},{"m":"Dectin-1","c":"D","x":10.5,"i":0.48},{"m":"Dectin-1","c":"D","x":13,"i":0.36},{"m":"Dectin-1","c":"D","x":16,"i":0.26},{"m":"Dectin-1","c":"D","x":19,"i":0.15},{"m":"Dectin-1","c":"D","x":22,"i":0.06},{"m":"Dectin-1","c":"D","x":25,"i":0},
{"m":"Dectin-1","c":"D","x":23,"s":0},{"m":"Dectin-1","c":"D","x":27,"s":0.05},{"m":"Dectin-1","c":"D","x":31,"s":0.15},{"m":"Dectin-1","c":"D","x":35,"s":0.32},{"m":"Dectin-1","c":"D","x":39.5,"s":0.46},{"m":"Dectin-1","c":"D","x":43,"s":0.38},{"m":"Dectin-1","c":"D","x":46.5,"s":0.22},{"m":"Dectin-1","c":"D","x":50,"s":0.07},{"m":"Dectin-1","c":"D","x":53,"s":0},
{"m":"Dectin-2","c":"M","x":15,"i":0},{"m":"Dectin-2","c":"M","x":19,"i":0.08},{"m":"Dectin-2","c":"M","x":23,"i":0.28},{"m":"Dectin-2","c":"M","x":27,"i":0.52},{"m":"Dectin-2","c":"M","x":30,"i":0.7},{"m":"Dectin-2","c":"M","x":32.5,"i":0.78},{"m":"Dectin-2","c":"M","x":35,"i":0.65},{"m":"Dectin-2","c":"M","x":38,"i":0.45},{"m":"Dectin-2","c":"M","x":41,"i":0.28},{"m":"Dectin-2","c":"M","x":45,"i":0.12},{"m":"Dectin-2","c":"M","x":50,"i":0.04},{"m":"Dectin-2","c":"M","x":55,"i":0},
{"m":"Dectin-2","c":"M","x":30,"s":0},{"m":"Dectin-2","c":"M","x":34,"s":0.08},{"m":"Dectin-2","c":"M","x":37,"s":0.28},{"m":"Dectin-2","c":"M","x":39.5,"s":0.5},{"m":"Dectin-2","c":"M","x":42,"s":0.72},{"m":"Dectin-2","c":"M","x":44.5,"s":0.82},{"m":"Dectin-2","c":"M","x":47,"s":0.68},{"m":"Dectin-2","c":"M","x":50,"s":0.4},{"m":"Dectin-2","c":"M","x":53,"s":0.17},{"m":"Dectin-2","c":"M","x":56,"s":0.04},{"m":"Dectin-2","c":"M","x":58,"s":0},
{"m":"Dectin-2","c":"D","x":0,"i":0.02},{"m":"Dectin-2","c":"D","x":8,"i":0.03},{"m":"Dectin-2","c":"D","x":14,"i":0.07},{"m":"Dectin-2","c":"D","x":19,"i":0.15},{"m":"Dectin-2","c":"D","x":23,"i":0.3},{"m":"Dectin-2","c":"D","x":26,"i":0.42},{"m":"Dectin-2","c":"D","x":29,"i":0.5},{"m":"Dectin-2","c":"D","x":32,"i":0.42},{"m":"Dectin-2","c":"D","x":35,"i":0.22},{"m":"Dectin-2","c":"D","x":39,"i":0.1},{"m":"Dectin-2","c":"D","x":45,"i":0.05},{"m":"Dectin-2","c":"D","x":55,"i":0.04},{"m":"Dectin-2","c":"D","x":65,"i":0.03},{"m":"Dectin-2","c":"D","x":73,"i":0.01},{"m":"Dectin-2","c":"D","x":75,"i":0},
{"m":"Dectin-2","c":"D","x":22,"s":0},{"m":"Dectin-2","c":"D","x":25,"s":0.05},{"m":"Dectin-2","c":"D","x":28,"s":0.15},{"m":"Dectin-2","c":"D","x":31,"s":0.35},{"m":"Dectin-2","c":"D","x":34,"s":0.5},{"m":"Dectin-2","c":"D","x":36,"s":0.56},{"m":"Dectin-2","c":"D","x":39,"s":0.48},{"m":"Dectin-2","c":"D","x":42,"s":0.35},{"m":"Dectin-2","c":"D","x":45,"s":0.22},{"m":"Dectin-2","c":"D","x":48.5,"s":0.12},{"m":"Dectin-2","c":"D","x":53,"s":0.05},{"m":"Dectin-2","c":"D","x":60,"s":0},
{"m":"CCR2","c":"M","x":0,"i":0.08},{"m":"CCR2","c":"M","x":5,"i":0.12},{"m":"CCR2","c":"M","x":10,"i":0.17},{"m":"CCR2","c":"M","x":15,"i":0.26},{"m":"CCR2","c":"M","x":20,"i":0.38},{"m":"CCR2","c":"M","x":24,"i":0.5},{"m":"CCR2","c":"M","x":28,"i":0.66},{"m":"CCR2","c":"M","x":31,"i":0.7},{"m":"CCR2","c":"M","x":34,"i":0.62},{"m":"CCR2","c":"M","x":37,"i":0.38},{"m":"CCR2","c":"M","x":40,"i":0.18},{"m":"CCR2","c":"M","x":43,"i":0.05},{"m":"CCR2","c":"M","x":45,"i":0},
{"m":"CCR2","c":"M","x":28,"s":0},{"m":"CCR2","c":"M","x":33,"s":0.02},{"m":"CCR2","c":"M","x":37,"s":0.06},{"m":"CCR2","c":"M","x":40,"s":0.14},{"m":"CCR2","c":"M","x":43,"s":0.28},{"m":"CCR2","c":"M","x":46,"s":0.46},{"m":"CCR2","c":"M","x":48,"s":0.6},{"m":"CCR2","c":"M","x":50,"s":0.73},{"m":"CCR2","c":"M","x":52.5,"s":0.58},{"m":"CCR2","c":"M","x":55,"s":0.4},{"m":"CCR2","c":"M","x":58,"s":0.16},{"m":"CCR2","c":"M","x":61,"s":0},
{"m":"CCR2","c":"D","x":0,"i":0.08},{"m":"CCR2","c":"D","x":4,"i":0.12},{"m":"CCR2","c":"D","x":8,"i":0.18},{"m":"CCR2","c":"D","x":12,"i":0.25},{"m":"CCR2","c":"D","x":16,"i":0.32},{"m":"CCR2","c":"D","x":20,"i":0.35},{"m":"CCR2","c":"D","x":24,"i":0.33},{"m":"CCR2","c":"D","x":28,"i":0.3},{"m":"CCR2","c":"D","x":31,"i":0.25},{"m":"CCR2","c":"D","x":34,"i":0.18},{"m":"CCR2","c":"D","x":37,"i":0.12},{"m":"CCR2","c":"D","x":40,"i":0.05},{"m":"CCR2","c":"D","x":43,"i":0.01},{"m":"CCR2","c":"D","x":45,"i":0},
{"m":"CCR2","c":"D","x":25,"s":0},{"m":"CCR2","c":"D","x":32,"s":0.03},{"m":"CCR2","c":"D","x":38,"s":0.08},{"m":"CCR2","c":"D","x":42,"s":0.18},{"m":"CCR2","c":"D","x":45,"s":0.35},{"m":"CCR2","c":"D","x":48.5,"s":0.45},{"m":"CCR2","c":"D","x":51,"s":0.42},{"m":"CCR2","c":"D","x":54,"s":0.28},{"m":"CCR2","c":"D","x":57,"s":0.1},{"m":"CCR2","c":"D","x":60,"s":0},
{"m":"CCR7","c":"M","x":0,"i":0.08},{"m":"CCR7","c":"M","x":3,"i":0.15},{"m":"CCR7","c":"M","x":6,"i":0.25},{"m":"CCR7","c":"M","x":10,"i":0.4},{"m":"CCR7","c":"M","x":14,"i":0.55},{"m":"CCR7","c":"M","x":18,"i":0.7},{"m":"CCR7","c":"M","x":22,"i":0.8},{"m":"CCR7","c":"M","x":25,"i":0.6},{"m":"CCR7","c":"M","x":28,"i":0.35},{"m":"CCR7","c":"M","x":31,"i":0.12},{"m":"CCR7","c":"M","x":34,"i":0},
{"m":"CCR7","c":"M","x":0,"s":0.12},{"m":"CCR7","c":"M","x":3,"s":0.2},{"m":"CCR7","c":"M","x":6,"s":0.3},{"m":"CCR7","c":"M","x":10,"s":0.45},{"m":"CCR7","c":"M","x":14,"s":0.6},{"m":"CCR7","c":"M","x":18,"s":0.72},{"m":"CCR7","c":"M","x":21,"s":0.75},{"m":"CCR7","c":"M","x":24,"s":0.6},{"m":"CCR7","c":"M","x":27,"s":0.38},{"m":"CCR7","c":"M","x":30,"s":0.15},{"m":"CCR7","c":"M","x":33,"s":0.04},{"m":"CCR7","c":"M","x":36,"s":0},
{"m":"CCR7","c":"D","x":0,"i":0.3},{"m":"CCR7","c":"D","x":3,"i":0.42},{"m":"CCR7","c":"D","x":6,"i":0.52},{"m":"CCR7","c":"D","x":8.6,"i":0.6},{"m":"CCR7","c":"D","x":11,"i":0.52},{"m":"CCR7","c":"D","x":14,"i":0.38},{"m":"CCR7","c":"D","x":17,"i":0.25},{"m":"CCR7","c":"D","x":20,"i":0.12},{"m":"CCR7","c":"D","x":23,"i":0.04},{"m":"CCR7","c":"D","x":25,"i":0},
{"m":"CCR7","c":"D","x":0,"s":0.27},{"m":"CCR7","c":"D","x":3,"s":0.4},{"m":"CCR7","c":"D","x":6,"s":0.5},{"m":"CCR7","c":"D","x":8.6,"s":0.55},{"m":"CCR7","c":"D","x":11,"s":0.5},{"m":"CCR7","c":"D","x":14,"s":0.4},{"m":"CCR7","c":"D","x":17,"s":0.28},{"m":"CCR7","c":"D","x":20,"s":0.16},{"m":"CCR7","c":"D","x":24,"s":0.07},{"m":"CCR7","c":"D","x":30,"s":0.03},{"m":"CCR7","c":"D","x":39,"s":0},
{"m":"Tim-4","c":"M","x":0,"i":0.05},{"m":"Tim-4","c":"M","x":4,"i":0.15},{"m":"Tim-4","c":"M","x":8,"i":0.27},{"m":"Tim-4","c":"M","x":12,"i":0.4},{"m":"Tim-4","c":"M","x":16,"i":0.58},{"m":"Tim-4","c":"M","x":19,"i":0.72},{"m":"Tim-4","c":"M","x":21.5,"i":0.8},{"m":"Tim-4","c":"M","x":24,"i":0.72},{"m":"Tim-4","c":"M","x":26.5,"i":0.55},{"m":"Tim-4","c":"M","x":29,"i":0.32},{"m":"Tim-4","c":"M","x":31.5,"i":0.12},{"m":"Tim-4","c":"M","x":34,"i":0},
{"m":"Tim-4","c":"M","x":0,"s":0.08},{"m":"Tim-4","c":"M","x":4,"s":0.18},{"m":"Tim-4","c":"M","x":8,"s":0.28},{"m":"Tim-4","c":"M","x":12,"s":0.4},{"m":"Tim-4","c":"M","x":16,"s":0.58},{"m":"Tim-4","c":"M","x":20,"s":0.75},{"m":"Tim-4","c":"M","x":23,"s":0.82},{"m":"Tim-4","c":"M","x":26,"s":0.78},{"m":"Tim-4","c":"M","x":29,"s":0.7},{"m":"Tim-4","c":"M","x":33,"s":0.55},{"m":"Tim-4","c":"M","x":37,"s":0.4},{"m":"Tim-4","c":"M","x":41,"s":0.28},{"m":"Tim-4","c":"M","x":45,"s":0.15},{"m":"Tim-4","c":"M","x":50,"s":0.06},{"m":"Tim-4","c":"M","x":55,"s":0.01},{"m":"Tim-4","c":"M","x":57,"s":0},
{"m":"Tim-4","c":"D","x":0,"i":0.12},{"m":"Tim-4","c":"D","x":3,"i":0.25},{"m":"Tim-4","c":"D","x":6,"i":0.35},{"m":"Tim-4","c":"D","x":9,"i":0.42},{"m":"Tim-4","c":"D","x":11.6,"i":0.46},{"m":"Tim-4","c":"D","x":14,"i":0.43},{"m":"Tim-4","c":"D","x":17,"i":0.35},{"m":"Tim-4","c":"D","x":19.5,"i":0.22},{"m":"Tim-4","c":"D","x":22,"i":0.08},{"m":"Tim-4","c":"D","x":24,"i":0},
{"m":"Tim-4","c":"D","x":0,"s":0.15},{"m":"Tim-4","c":"D","x":4,"s":0.3},{"m":"Tim-4","c":"D","x":8,"s":0.4},{"m":"Tim-4","c":"D","x":11,"s":0.46},{"m":"Tim-4","c":"D","x":14,"s":0.5},{"m":"Tim-4","c":"D","x":17,"s":0.46},{"m":"Tim-4","c":"D","x":20,"s":0.4},{"m":"Tim-4","c":"D","x":23,"s":0.32},{"m":"Tim-4","c":"D","x":26,"s":0.24},{"m":"Tim-4","c":"D","x":30,"s":0.15},{"m":"Tim-4","c":"D","x":34,"s":0.08},{"m":"Tim-4","c":"D","x":38,"s":0.03},{"m":"Tim-4","c":"D","x":43,"s":0},
{"m":"CD73","c":"M","x":2,"i":0},{"m":"CD73","c":"M","x":6,"i":0.07},{"m":"CD73","c":"M","x":10,"i":0.18},{"m":"CD73","c":"M","x":14,"i":0.32},{"m":"CD73","c":"M","x":18,"i":0.46},{"m":"CD73","c":"M","x":22,"i":0.62},{"m":"CD73","c":"M","x":26,"i":0.74},{"m":"CD73","c":"M","x":29,"i":0.62},{"m":"CD73","c":"M","x":32,"i":0.45},{"m":"CD73","c":"M","x":35,"i":0.28},{"m":"CD73","c":"M","x":38,"i":0.12},{"m":"CD73","c":"M","x":41,"i":0},
{"m":"CD73","c":"M","x":14,"s":0},{"m":"CD73","c":"M","x":20,"s":0.03},{"m":"CD73","c":"M","x":25,"s":0.1},{"m":"CD73","c":"M","x":29,"s":0.28},{"m":"CD73","c":"M","x":32,"s":0.43},{"m":"CD73","c":"M","x":35,"s":0.55},{"m":"CD73","c":"M","x":38,"s":0.66},{"m":"CD73","c":"M","x":41,"s":0.6},{"m":"CD73","c":"M","x":44,"s":0.46},{"m":"CD73","c":"M","x":47.5,"s":0.32},{"m":"CD73","c":"M","x":51,"s":0.2},{"m":"CD73","c":"M","x":55,"s":0.12},{"m":"CD73","c":"M","x":59,"s":0.07},{"m":"CD73","c":"M","x":63,"s":0.03},{"m":"CD73","c":"M","x":67,"s":0},
{"m":"CD73","c":"D","x":20,"i":0},{"m":"CD73","c":"D","x":24,"i":0.08},{"m":"CD73","c":"D","x":27,"i":0.2},{"m":"CD73","c":"D","x":30.5,"i":0.35},{"m":"CD73","c":"D","x":33.6,"i":0.45},{"m":"CD73","c":"D","x":36.5,"i":0.38},{"m":"CD73","c":"D","x":39.5,"i":0.22},{"m":"CD73","c":"D","x":42,"i":0.08},{"m":"CD73","c":"D","x":44,"i":0},
{"m":"CD73","c":"D","x":25,"s":0},{"m":"CD73","c":"D","x":30,"s":0.04},{"m":"CD73","c":"D","x":34,"s":0.1},{"m":"CD73","c":"D","x":38,"s":0.18},{"m":"CD73","c":"D","x":42,"s":0.3},{"m":"CD73","c":"D","x":45.7,"s":0.37},{"m":"CD73","c":"D","x":49,"s":0.3},{"m":"CD73","c":"D","x":52,"s":0.2},{"m":"CD73","c":"D","x":55.5,"s":0.1},{"m":"CD73","c":"D","x":58.5,"s":0.04},{"m":"CD73","c":"D","x":61,"s":0}
]
},
"hconcat": [
{
"spacing": 9,
"vconcat": [
{"data": {"name": "H"}, "width": 390, "height": 40, "mark": {"type": "text", "fontSize": 31, "font": "Liberation Sans", "color": "#1a1a1a", "baseline": "middle"},
 "encoding": {"x": {"field": "c", "type": "nominal", "scale": {"domain": ["M","D"], "paddingInner": 0.045, "paddingOuter": 0}, "axis": null}, "text": {"field": "t"}}},
{
"data": {"name": "L"},
"facet": {"row": {"field": "m", "type": "nominal", "header": null, "sort": ["CD11b","CD11c","CD16","CD36","CD64","CD40","CD62L","CD80","CD86","CD115","CD116","HLA-DR"]}},
"spacing": {"row": 11},
"spec": {
"width": 390, "height": 96,
"layer": [
{
"encoding": {"x": {"field": "c", "type": "nominal", "bandPosition": 0, "scale": {"domain": ["M","D"], "paddingInner": 0.045, "paddingOuter": 0}, "axis": null}},
"layer": [
{"transform": [{"filter": "isValid(datum.s)"}], "mark": {"type": "area", "interpolate": "monotone", "fill": "#b3b3b3", "stroke": "#e5505a", "strokeWidth": 1.1, "strokeOpacity": 0.75},
 "encoding": {"xOffset": {"field": "x", "type": "quantitative", "scale": {"domain": [0,100], "range": [0,190.5], "nice": false, "zero": false}}, "y": {"field": "s", "type": "quantitative", "stack": null, "scale": {"domain": [-0.5,1], "nice": false, "zero": false}, "axis": null}, "y2": {"datum": 0}, "detail": {"field": "c"}}},
{"transform": [{"filter": "isValid(datum.i)"}], "mark": {"type": "line", "interpolate": "monotone", "color": "#2a2a2a", "strokeWidth": 1.2},
 "encoding": {"xOffset": {"field": "x", "type": "quantitative", "scale": {"domain": [0,100], "range": [0,190.5], "nice": false, "zero": false}}, "y": {"field": "i", "type": "quantitative", "scale": {"domain": [-0.5,1], "nice": false, "zero": false}, "axis": null}, "detail": {"field": "c"}, "order": {"field": "x", "type": "quantitative"}}}
]
},
{
"transform": [{"aggregate": [{"op": "count", "as": "n"}], "groupby": ["m"]}],
"layer": [
{"mark": {"type": "rect", "fill": "transparent", "stroke": "#222222", "strokeWidth": 1.6}, "encoding": {"x": {"datum": 0, "type": "quantitative", "scale": {"domain": [0,1], "nice": false, "zero": false}, "axis": null}, "x2": {"datum": 0.4885}, "y": {"datum": 0, "type": "quantitative", "scale": {"domain": [-0.5,1], "nice": false, "zero": false}, "axis": null}, "y2": {"datum": 1}}},
{"mark": {"type": "rect", "fill": "transparent", "stroke": "#222222", "strokeWidth": 1.6}, "encoding": {"x": {"datum": 0.5115, "type": "quantitative", "scale": {"domain": [0,1], "nice": false, "zero": false}, "axis": null}, "x2": {"datum": 1}, "y": {"datum": 0, "type": "quantitative", "scale": {"domain": [-0.5,1], "nice": false, "zero": false}, "axis": null}, "y2": {"datum": 1}}},
{"mark": {"type": "rule", "color": "#222222", "strokeWidth": 1.8}, "encoding": {"x": {"datum": 0.022, "type": "quantitative", "scale": {"domain": [0,1], "nice": false, "zero": false}, "axis": null}, "x2": {"datum": 0.335}, "y": {"datum": -0.289, "type": "quantitative", "scale": {"domain": [-0.5,1], "nice": false, "zero": false}, "axis": null}}},
{"mark": {"type": "rule", "color": "#222222", "strokeWidth": 1.8}, "encoding": {"x": {"datum": 0.668, "type": "quantitative", "scale": {"domain": [0,1], "nice": false, "zero": false}, "axis": null}, "x2": {"datum": 0.958}, "y": {"datum": -0.289, "type": "quantitative", "scale": {"domain": [-0.5,1], "nice": false, "zero": false}, "axis": null}}},
{"mark": {"type": "point", "shape": "M-1,-0.42L0,0L-1,0.42", "filled": false, "color": "#222222", "strokeWidth": 1.8, "size": 676, "opacity": 1}, "encoding": {"x": {"datum": 0.958, "type": "quantitative", "scale": {"domain": [0,1], "nice": false, "zero": false}, "axis": null}, "y": {"datum": -0.289, "type": "quantitative", "scale": {"domain": [-0.5,1], "nice": false, "zero": false}, "axis": null}}},
{"mark": {"type": "text", "fontSize": 27, "font": "Liberation Sans", "color": "#222222", "baseline": "middle", "align": "center"}, "encoding": {"x": {"datum": 0.5, "type": "quantitative", "scale": {"domain": [0,1], "nice": false, "zero": false}, "axis": null}, "y": {"datum": -0.289, "type": "quantitative", "scale": {"domain": [-0.5,1], "nice": false, "zero": false}, "axis": null}, "text": {"field": "m"}}}
]
}
],
"resolve": {"scale": {"x": "independent"}}
}
}
]
},
{
"spacing": 9,
"vconcat": [
{"data": {"name": "H"}, "width": 390, "height": 40, "mark": {"type": "text", "fontSize": 31, "font": "Liberation Sans", "color": "#1a1a1a", "baseline": "middle"},
 "encoding": {"x": {"field": "c", "type": "nominal", "scale": {"domain": ["M","D"], "paddingInner": 0.045, "paddingOuter": 0}, "axis": null}, "text": {"field": "t"}}},
{
"data": {"name": "R"},
"facet": {"row": {"field": "m", "type": "nominal", "header": null, "sort": ["CD163","CD206","CD226","CD301","FceR1","MerTK","Dectin-1","Dectin-2","CCR2","CCR7","Tim-4","CD73"]}},
"spacing": {"row": 11},
"spec": {
"width": 390, "height": 96,
"layer": [
{
"encoding": {"x": {"field": "c", "type": "nominal", "bandPosition": 0, "scale": {"domain": ["M","D"], "paddingInner": 0.045, "paddingOuter": 0}, "axis": null}},
"layer": [
{"transform": [{"filter": "isValid(datum.s)"}], "mark": {"type": "area", "interpolate": "monotone", "fill": "#b3b3b3", "stroke": "#e5505a", "strokeWidth": 1.1, "strokeOpacity": 0.75},
 "encoding": {"xOffset": {"field": "x", "type": "quantitative", "scale": {"domain": [0,100], "range": [0,190.5], "nice": false, "zero": false}}, "y": {"field": "s", "type": "quantitative", "stack": null, "scale": {"domain": [-0.5,1], "nice": false, "zero": false}, "axis": null}, "y2": {"datum": 0}, "detail": {"field": "c"}}},
{"transform": [{"filter": "isValid(datum.i)"}], "mark": {"type": "line", "interpolate": "monotone", "color": "#2a2a2a", "strokeWidth": 1.2},
 "encoding": {"xOffset": {"field": "x", "type": "quantitative", "scale": {"domain": [0,100], "range": [0,190.5], "nice": false, "zero": false}}, "y": {"field": "i", "type": "quantitative", "scale": {"domain": [-0.5,1], "nice": false, "zero": false}, "axis": null}, "detail": {"field": "c"}, "order": {"field": "x", "type": "quantitative"}}}
]
},
{
"transform": [{"aggregate": [{"op": "count", "as": "n"}], "groupby": ["m"]}],
"layer": [
{"mark": {"type": "rect", "fill": "transparent", "stroke": "#222222", "strokeWidth": 1.6}, "encoding": {"x": {"datum": 0, "type": "quantitative", "scale": {"domain": [0,1], "nice": false, "zero": false}, "axis": null}, "x2": {"datum": 0.4885}, "y": {"datum": 0, "type": "quantitative", "scale": {"domain": [-0.5,1], "nice": false, "zero": false}, "axis": null}, "y2": {"datum": 1}}},
{"mark": {"type": "rect", "fill": "transparent", "stroke": "#222222", "strokeWidth": 1.6}, "encoding": {"x": {"datum": 0.5115, "type": "quantitative", "scale": {"domain": [0,1], "nice": false, "zero": false}, "axis": null}, "x2": {"datum": 1}, "y": {"datum": 0, "type": "quantitative", "scale": {"domain": [-0.5,1], "nice": false, "zero": false}, "axis": null}, "y2": {"datum": 1}}},
{"mark": {"type": "rule", "color": "#222222", "strokeWidth": 1.8}, "encoding": {"x": {"datum": 0.022, "type": "quantitative", "scale": {"domain": [0,1], "nice": false, "zero": false}, "axis": null}, "x2": {"datum": 0.335}, "y": {"datum": -0.289, "type": "quantitative", "scale": {"domain": [-0.5,1], "nice": false, "zero": false}, "axis": null}}},
{"mark": {"type": "rule", "color": "#222222", "strokeWidth": 1.8}, "encoding": {"x": {"datum": 0.668, "type": "quantitative", "scale": {"domain": [0,1], "nice": false, "zero": false}, "axis": null}, "x2": {"datum": 0.958}, "y": {"datum": -0.289, "type": "quantitative", "scale": {"domain": [-0.5,1], "nice": false, "zero": false}, "axis": null}}},
{"mark": {"type": "point", "shape": "M-1,-0.42L0,0L-1,0.42", "filled": false, "color": "#222222", "strokeWidth": 1.8, "size": 676, "opacity": 1}, "encoding": {"x": {"datum": 0.958, "type": "quantitative", "scale": {"domain": [0,1], "nice": false, "zero": false}, "axis": null}, "y": {"datum": -0.289, "type": "quantitative", "scale": {"domain": [-0.5,1], "nice": false, "zero": false}, "axis": null}}},
{"mark": {"type": "text", "fontSize": 27, "font": "Liberation Sans", "color": "#222222", "baseline": "middle", "align": "center"}, "encoding": {"x": {"datum": 0.5, "type": "quantitative", "scale": {"domain": [0,1], "nice": false, "zero": false}, "axis": null}, "y": {"datum": -0.289, "type": "quantitative", "scale": {"domain": [-0.5,1], "nice": false, "zero": false}, "axis": null}, "text": {"field": "m"}}}
]
}
],
"resolve": {"scale": {"x": "independent"}}
}
}
]
}
]
}
